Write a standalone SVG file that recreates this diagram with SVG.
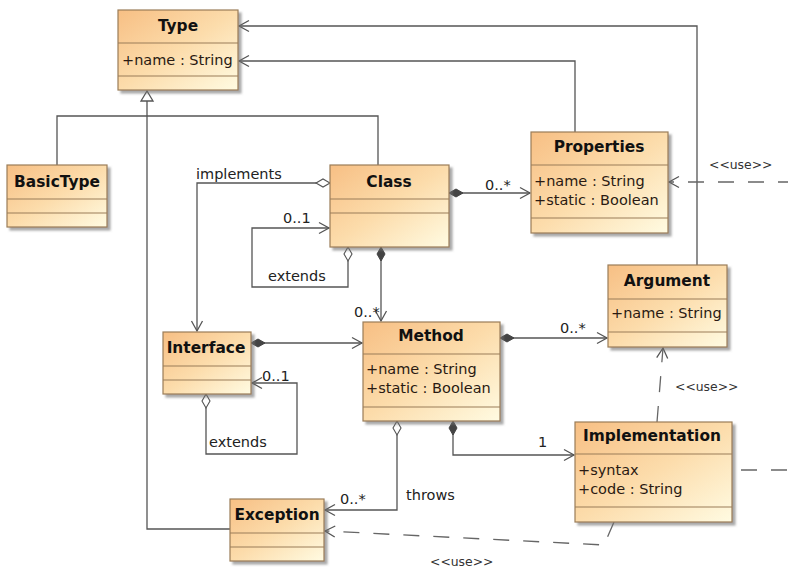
<svg xmlns="http://www.w3.org/2000/svg" width="788" height="569" viewBox="0 0 788 569">
  <defs>
    <linearGradient id="boxFill" x1="0" y1="0" x2="1" y2="1">
      <stop offset="0" stop-color="#f7bf84"/>
      <stop offset="0.5" stop-color="#fcdcab"/>
      <stop offset="1" stop-color="#fffbe2"/>
    </linearGradient>
    <filter id="shadow" x="-10%" y="-10%" width="130%" height="130%">
      <feDropShadow dx="3" dy="3" stdDeviation="1.2" flood-color="#707070" flood-opacity="0.6"/>
    </filter>
    <marker id="arrow" markerUnits="userSpaceOnUse" viewBox="-11 -7 13 14" refX="0" refY="0" markerWidth="13" markerHeight="14" orient="auto">
      <path d="M -10 -5.5 L 0 0 L -10 5.5" fill="none" stroke="#555" stroke-width="1.3"/>
    </marker>
    <marker id="diamondFilled" markerUnits="userSpaceOnUse" viewBox="-1 -6 17 12" refX="0" refY="0" markerWidth="17" markerHeight="12" orient="auto">
      <path d="M 0 0 L 7 -4 L 14 0 L 7 4 Z" fill="#444" stroke="#444" stroke-width="1"/>
    </marker>
    <marker id="diamondHollow" markerUnits="userSpaceOnUse" viewBox="-1 -6 17 12" refX="0" refY="0" markerWidth="17" markerHeight="12" orient="auto">
      <path d="M 0 0 L 7 -4 L 14 0 L 7 4 Z" fill="#fff" stroke="#555" stroke-width="1.1"/>
    </marker>
  </defs>
  <style>
    .box { fill: url(#boxFill); stroke: #9a7c58; stroke-width: 1.2; filter: url(#shadow); }
    .sep { stroke: #9a7c58; stroke-width: 1.1; }
    .title { font-family: "DejaVu Sans", sans-serif; font-weight: bold; font-size: 15.4px; fill: #111; }
    .attr { font-family: "DejaVu Sans", sans-serif; font-size: 14.5px; fill: #2a1a12; }
    .lbl { font-family: "DejaVu Sans", sans-serif; font-size: 14.5px; fill: #222; }
    .stereo { font-family: "DejaVu Sans", sans-serif; font-size: 12.4px; fill: #333; }
    .line { fill: none; stroke: #555; stroke-width: 1.3; }
    .dash { fill: none; stroke: #666; stroke-width: 1.3; stroke-dasharray: 16 14; }
  </style>
  <rect width="788" height="569" fill="#fff"/>

  <!-- connectors -->
  <g id="connectors">
    <!-- generalization tree into Type -->
    <path class="line" d="M 57 165 V 116 H 378 V 165"/>
    <path class="line" d="M 230 529 H 147 V 101"/>
    <polygon points="147,91 141,101 153,101" fill="#fff" stroke="#555" stroke-width="1.3"/>
    <!-- Argument / Properties to Type -->
    <path class="line" d="M 697 265 V 26 H 239" marker-end="url(#arrow)"/>
    <path class="line" d="M 575 132 V 61 H 239" marker-end="url(#arrow)"/>
    <!-- Class compositions -->
    <path class="line" d="M 449 193 H 530" marker-start="url(#diamondFilled)" marker-end="url(#arrow)"/>
    <path class="line" d="M 381 247 V 321" marker-start="url(#diamondFilled)" marker-end="url(#arrow)"/>
    <!-- implements -->
    <path class="line" d="M 330 183 H 197 V 331" marker-start="url(#diamondHollow)" marker-end="url(#arrow)"/>
    <!-- Class extends -->
    <path class="line" d="M 348 247 V 287 H 252 V 228 H 329" marker-start="url(#diamondHollow)" marker-end="url(#arrow)"/>
    <!-- Interface to Method -->
    <path class="line" d="M 251 343 H 362" marker-start="url(#diamondFilled)" marker-end="url(#arrow)"/>
    <!-- Interface extends -->
    <path class="line" d="M 206 394 V 454 H 297 V 383 H 252" marker-start="url(#diamondHollow)" marker-end="url(#arrow)"/>
    <!-- Method to Argument -->
    <path class="line" d="M 500 338 H 607" marker-start="url(#diamondFilled)" marker-end="url(#arrow)"/>
    <!-- throws -->
    <path class="line" d="M 397 421 V 510 H 325" marker-start="url(#diamondHollow)" marker-end="url(#arrow)"/>
    <!-- Method to Implementation -->
    <path class="line" d="M 453 421 V 455 H 574" marker-start="url(#diamondFilled)" marker-end="url(#arrow)"/>
    <!-- usage dependencies -->
    <path class="dash" d="M 788 182 H 669" marker-end="url(#arrow)" stroke-dashoffset="6"/>
    <path class="dash" d="M 657 422 L 663 348" marker-end="url(#arrow)"/>
    <path class="dash" d="M 614 522 L 604 545 L 325 531" marker-end="url(#arrow)"/>
    <path class="dash" d="M 733 470 H 788" stroke-dashoffset="-8"/>
    <circle cx="727" cy="470" r="2.3" fill="none" stroke="#999" stroke-width="1"/>
  </g>

  <!-- connector labels -->
  <g id="labels">
    <text class="lbl" x="196" y="179">implements</text>
    <text class="lbl" x="283" y="223">0..1</text>
    <text class="lbl" x="268" y="281">extends</text>
    <text class="lbl" x="485" y="190">0..*</text>
    <text class="lbl" x="354" y="317">0..*</text>
    <text class="lbl" x="262" y="381">0..1</text>
    <text class="lbl" x="209" y="447">extends</text>
    <text class="lbl" x="560" y="333">0..*</text>
    <text class="lbl" x="538" y="447">1</text>
    <text class="lbl" x="340" y="504">0..*</text>
    <text class="lbl" x="406" y="500">throws</text>
    <text class="stereo" x="709" y="169">&lt;&lt;use&gt;&gt;</text>
    <text class="stereo" x="675" y="391">&lt;&lt;use&gt;&gt;</text>
    <text class="stereo" x="430" y="566">&lt;&lt;use&gt;&gt;</text>
  </g>

  <g id="Type">
    <rect class="box" x="118" y="10" width="120" height="80"/>
    <line class="sep" x1="118" y1="43" x2="238" y2="43"/>
    <line class="sep" x1="118" y1="76" x2="238" y2="76"/>
    <text class="title" x="178" y="31" text-anchor="middle">Type</text>
    <text class="attr" x="122" y="65">+name : String</text>
  </g>

  <g id="BasicType">
    <rect class="box" x="7" y="165" width="100" height="62"/>
    <line class="sep" x1="7" y1="199" x2="107" y2="199"/>
    <line class="sep" x1="7" y1="213" x2="107" y2="213"/>
    <text class="title" x="57" y="187" text-anchor="middle">BasicType</text>
  </g>

  <g id="Class">
    <rect class="box" x="330" y="165" width="119" height="82"/>
    <line class="sep" x1="330" y1="199" x2="449" y2="199"/>
    <line class="sep" x1="330" y1="213" x2="449" y2="213"/>
    <text class="title" x="389" y="187" text-anchor="middle">Class</text>
  </g>

  <g id="Properties">
    <rect class="box" x="531" y="132" width="137" height="101"/>
    <line class="sep" x1="531" y1="165" x2="668" y2="165"/>
    <line class="sep" x1="531" y1="218" x2="668" y2="218"/>
    <text class="title" x="599" y="152" text-anchor="middle">Properties</text>
    <text class="attr" x="534" y="186">+name : String</text>
    <text class="attr" x="534" y="205">+static : Boolean</text>
  </g>

  <g id="Argument">
    <rect class="box" x="608" y="265" width="119" height="82"/>
    <line class="sep" x1="608" y1="299" x2="727" y2="299"/>
    <line class="sep" x1="608" y1="332" x2="727" y2="332"/>
    <text class="title" x="667" y="286" text-anchor="middle">Argument</text>
    <text class="attr" x="611" y="318">+name : String</text>
  </g>

  <g id="Interface">
    <rect class="box" x="163" y="332" width="88" height="62"/>
    <line class="sep" x1="163" y1="366" x2="251" y2="366"/>
    <line class="sep" x1="163" y1="380" x2="251" y2="380"/>
    <text class="title" x="206" y="353" text-anchor="middle">Interface</text>
  </g>

  <g id="Method">
    <rect class="box" x="363" y="322" width="137" height="99"/>
    <line class="sep" x1="363" y1="354" x2="500" y2="354"/>
    <line class="sep" x1="363" y1="407" x2="500" y2="407"/>
    <text class="title" x="431" y="341" text-anchor="middle">Method</text>
    <text class="attr" x="366" y="374">+name : String</text>
    <text class="attr" x="366" y="393">+static : Boolean</text>
  </g>

  <g id="Implementation">
    <rect class="box" x="575" y="422" width="157" height="100"/>
    <line class="sep" x1="575" y1="454" x2="732" y2="454"/>
    <line class="sep" x1="575" y1="507" x2="732" y2="507"/>
    <text class="title" x="652" y="441" text-anchor="middle">Implementation</text>
    <text class="attr" x="578" y="475">+syntax</text>
    <text class="attr" x="578" y="494">+code : String</text>
  </g>

  <g id="Exception">
    <rect class="box" x="230" y="499" width="94" height="62"/>
    <line class="sep" x1="230" y1="533" x2="324" y2="533"/>
    <line class="sep" x1="230" y1="547" x2="324" y2="547"/>
    <text class="title" x="277" y="520" text-anchor="middle">Exception</text>
  </g>
</svg>
